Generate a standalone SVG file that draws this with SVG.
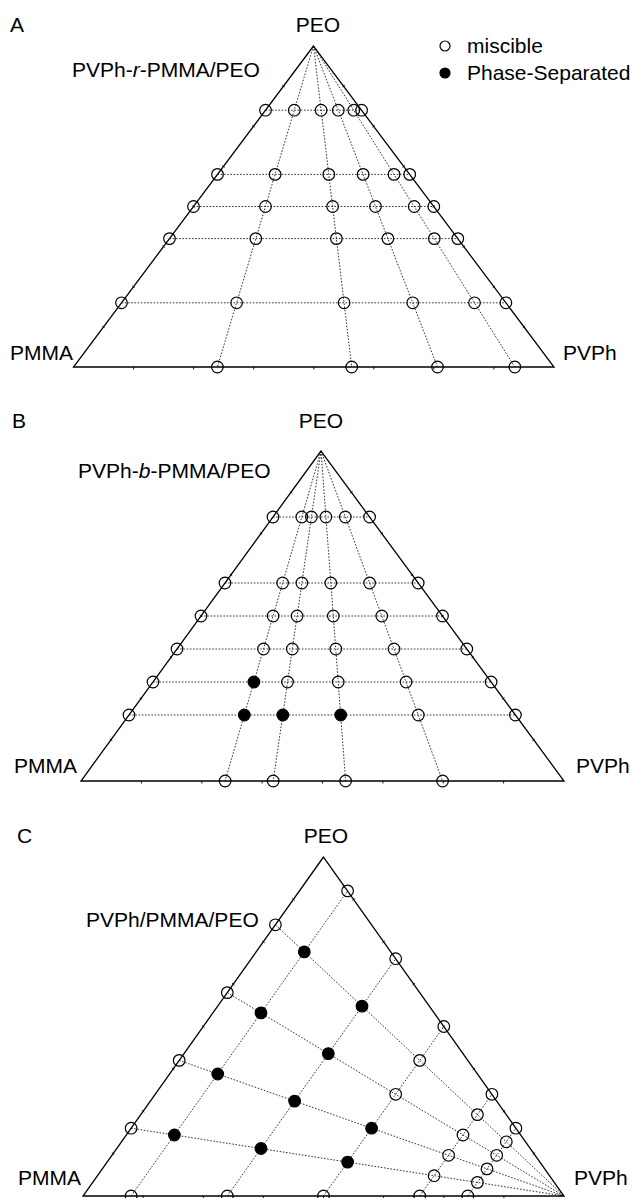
<svg xmlns="http://www.w3.org/2000/svg" width="633" height="1198" viewBox="0 0 633 1198">
<style>
text{font-family:"Liberation Sans",Arial,Helvetica,sans-serif;font-size:21px;fill:#000}
.e{fill:none;stroke:#000;stroke-width:1.3}
.t{fill:none;stroke:#000;stroke-width:0.9}
.d{fill:none;stroke:#000;stroke-width:0.8;stroke-dasharray:1.6 1.6}
.o{fill:none;stroke:#000;stroke-width:1.2}
.f{fill:#000;stroke:#000;stroke-width:1.2}
</style>
<rect width="633" height="1198" fill="#fff"/>

<g id="panelA">
<text x="10" y="32">A</text>
<text x="318" y="32" text-anchor="middle">PEO</text>
<text x="72" y="77">PVPh-<tspan font-style="italic">r</tspan>-PMMA/PEO</text>
<text x="10" y="360">PMMA</text>
<text x="563" y="360">PVPh</text>
<g id="A-frame">
<path class="e" d="M313.5 46L73.5 367L554 367Z"/>
<path class="t" d="M282.3 85.2l2.4 1.8M252.3 125.4l2.4 1.8M222.3 165.5l2.4 1.8M192.3 205.6l2.4 1.8M162.3 245.7l2.4 1.8M132.3 285.9l2.4 1.8M102.3 326l2.4 1.8M342.4 87l2.4-1.8M372.4 127.2l2.4-1.8M402.5 167.3l2.4-1.8M432.6 207.4l2.4-1.8M462.6 247.5l2.4-1.8M492.7 287.7l2.4-1.8M522.7 327.8l2.4-1.8M133.6 367v2.5M193.6 367v2.5M253.7 367v2.5M313.8 367v2.5M373.8 367v2.5M433.9 367v2.5M493.9 367v2.5"/>
</g>
<g id="A-connectors">
<path class="d" d="M265.5 110.2H361.6M217.5 174.4H409.7M193.5 206.5H433.8M169.5 238.6H457.8M121.5 302.8H505.9"/>
<path class="d" d="M313.5 46L217.4 367M313.5 46L351.7 367M313.5 46L437.5 367M313.5 46L514.8 367"/>
</g>
<g id="A-points">
<g class="o">
<circle cx="265.5" cy="110.2" r="5.8"/><circle cx="294.3" cy="110.2" r="5.8"/><circle cx="321.1" cy="110.2" r="5.8"/><circle cx="338.3" cy="110.2" r="5.8"/><circle cx="353.8" cy="110.2" r="5.8"/><circle cx="361.6" cy="110.2" r="5.8"/>
<circle cx="217.5" cy="174.4" r="5.8"/><circle cx="275.1" cy="174.4" r="5.8"/><circle cx="328.8" cy="174.4" r="5.8"/><circle cx="363.1" cy="174.4" r="5.8"/><circle cx="394" cy="174.4" r="5.8"/><circle cx="409.7" cy="174.4" r="5.8"/>
<circle cx="193.5" cy="206.5" r="5.8"/><circle cx="265.5" cy="206.5" r="5.8"/><circle cx="332.6" cy="206.5" r="5.8"/><circle cx="375.5" cy="206.5" r="5.8"/><circle cx="414.2" cy="206.5" r="5.8"/><circle cx="433.8" cy="206.5" r="5.8"/>
<circle cx="169.5" cy="238.6" r="5.8"/><circle cx="255.8" cy="238.6" r="5.8"/><circle cx="336.4" cy="238.6" r="5.8"/><circle cx="387.9" cy="238.6" r="5.8"/><circle cx="434.3" cy="238.6" r="5.8"/><circle cx="457.8" cy="238.6" r="5.8"/>
<circle cx="121.5" cy="302.8" r="5.8"/><circle cx="236.6" cy="302.8" r="5.8"/><circle cx="344.1" cy="302.8" r="5.8"/><circle cx="412.7" cy="302.8" r="5.8"/><circle cx="474.5" cy="302.8" r="5.8"/><circle cx="505.9" cy="302.8" r="5.8"/>
<circle cx="217.4" cy="367" r="5.8"/><circle cx="351.7" cy="367" r="5.8"/><circle cx="437.5" cy="367" r="5.8"/><circle cx="514.8" cy="367" r="5.8"/>
</g>
</g>
<g id="legend">
<circle class="o" cx="445" cy="46" r="5"/>
<circle class="f" cx="445" cy="73" r="5"/>
<text x="467" y="53">miscible</text>
<text x="467" y="80">Phase-Separated</text>
</g>
</g>

<g id="panelB">
<text x="12" y="428">B</text>
<text x="321" y="428" text-anchor="middle">PEO</text>
<text x="78" y="478">PVPh-<tspan font-style="italic">b</tspan>-PMMA/PEO</text>
<text x="14" y="773">PMMA</text>
<text x="576" y="773">PVPh</text>
<g id="B-frame">
<path class="e" d="M321 451L81 781L564 781Z"/>
<path class="t" d="M289.8 491.4l2.4 1.8M259.8 532.6l2.4 1.8M229.8 573.9l2.4 1.8M199.8 615.1l2.4 1.8M169.8 656.4l2.4 1.8M139.8 697.6l2.4 1.8M109.8 738.9l2.4 1.8M350.2 493.2l2.4-1.8M380.6 534.4l2.4-1.8M410.9 575.7l2.4-1.8M441.3 616.9l2.4-1.8M471.7 658.2l2.4-1.8M502.1 699.4l2.4-1.8M532.4 740.7l2.4-1.8M141.4 781v2.5M201.8 781v2.5M262.1 781v2.5M322.5 781v2.5M382.9 781v2.5M443.3 781v2.5M503.6 781v2.5"/>
</g>
<g id="B-connectors">
<path class="d" d="M273 517H369.6M225 583H418.2M201 616H442.5M177 649H466.8M153 682H491.1M129 715H515.4"/>
<path class="d" d="M321 451L225.1 781M321 451L273.2 781M321 451L345.6 781M321 451L442.6 781"/>
</g>
<g id="B-points">
<g class="o">
<circle cx="273" cy="517" r="5.8"/><circle cx="301.8" cy="517" r="5.8"/><circle cx="311.4" cy="517" r="5.8"/><circle cx="325.9" cy="517" r="5.8"/><circle cx="345.3" cy="517" r="5.8"/><circle cx="369.6" cy="517" r="5.8"/>
<circle cx="225" cy="583" r="5.8"/><circle cx="282.6" cy="583" r="5.8"/><circle cx="301.9" cy="583" r="5.8"/><circle cx="330.8" cy="583" r="5.8"/><circle cx="369.6" cy="583" r="5.8"/><circle cx="418.2" cy="583" r="5.8"/>
<circle cx="201" cy="616" r="5.8"/><circle cx="273.1" cy="616" r="5.8"/><circle cx="297.1" cy="616" r="5.8"/><circle cx="333.3" cy="616" r="5.8"/><circle cx="381.8" cy="616" r="5.8"/><circle cx="442.5" cy="616" r="5.8"/>
<circle cx="177" cy="649" r="5.8"/><circle cx="263.5" cy="649" r="5.8"/><circle cx="292.3" cy="649" r="5.8"/><circle cx="335.8" cy="649" r="5.8"/><circle cx="394" cy="649" r="5.8"/><circle cx="466.8" cy="649" r="5.8"/>
<circle cx="153" cy="682" r="5.8"/><circle cx="287.5" cy="682" r="5.8"/><circle cx="338.2" cy="682" r="5.8"/><circle cx="406.1" cy="682" r="5.8"/><circle cx="491.1" cy="682" r="5.8"/>
<circle cx="129" cy="715" r="5.8"/><circle cx="418.3" cy="715" r="5.8"/><circle cx="515.4" cy="715" r="5.8"/>
<circle cx="225.1" cy="781" r="5.8"/><circle cx="273.2" cy="781" r="5.8"/><circle cx="345.6" cy="781" r="5.8"/><circle cx="442.6" cy="781" r="5.8"/>
</g>
<g class="f">
<circle cx="253.9" cy="682" r="5.8"/>
<circle cx="244.3" cy="715" r="5.8"/><circle cx="282.8" cy="715" r="5.8"/><circle cx="340.7" cy="715" r="5.8"/>
</g>
</g>
</g>

<g id="panelC">
<text x="17" y="843">C</text>
<text x="326" y="843" text-anchor="middle">PEO</text>
<text x="86" y="927">PVPh/PMMA/PEO</text>
<text x="18" y="1185">PMMA</text>
<text x="574" y="1185">PVPh</text>
<g id="C-frame">
<path class="e" d="M323.5 857L83 1196L564 1196Z"/>
<path class="t" d="M292.2 898.5l2.4 1.8M262.2 940.9l2.4 1.8M232.1 983.2l2.4 1.8M202.1 1025.6l2.4 1.8M172 1068l2.4 1.8M141.9 1110.4l2.4 1.8M111.9 1152.7l2.4 1.8M352.4 900.3l2.4-1.8M382.4 942.7l2.4-1.8M412.5 985l2.4-1.8M442.6 1027.4l2.4-1.8M472.6 1069.8l2.4-1.8M502.7 1112.2l2.4-1.8M532.7 1154.5l2.4-1.8M143.1 1196v2M203.3 1196v2M263.4 1196v2M323.5 1196v2M383.6 1196v2M443.8 1196v2M503.9 1196v2"/>
</g>
<g id="C-connectors">
<path class="d" d="M275.4 924.8L564 1196M227.3 992.6L564 1196M179.2 1060.4L564 1196M131.1 1128.2L564 1196"/>
<path class="d" d="M131.1 1196L347.6 890.9M227.3 1196L395.7 958.7M323.5 1196L443.8 1026.5M419.7 1196L491.9 1094.3M467.8 1196L515.9 1128.2"/>
</g>
<g id="C-points">
<g class="o">
<circle cx="275.4" cy="924.8" r="5.8"/><circle cx="227.3" cy="992.6" r="5.8"/><circle cx="179.2" cy="1060.4" r="5.8"/><circle cx="131.1" cy="1128.2" r="5.8"/>
<circle cx="347.6" cy="890.9" r="5.8"/><circle cx="395.7" cy="958.7" r="5.8"/><circle cx="443.8" cy="1026.5" r="5.8"/><circle cx="491.9" cy="1094.3" r="5.8"/><circle cx="515.9" cy="1128.2" r="5.8"/>
<circle cx="131.1" cy="1196" r="5.8"/><circle cx="227.3" cy="1196" r="5.8"/><circle cx="323.5" cy="1196" r="5.8"/><circle cx="419.7" cy="1196" r="5.8"/><circle cx="467.8" cy="1196" r="5.8"/>
<circle cx="419.7" cy="1060.4" r="5.8"/><circle cx="477.4" cy="1114.6" r="5.8"/><circle cx="506.3" cy="1141.8" r="5.8"/>
<circle cx="395.7" cy="1094.3" r="5.8"/><circle cx="463" cy="1135" r="5.8"/><circle cx="496.7" cy="1155.3" r="5.8"/>
<circle cx="448.6" cy="1155.3" r="5.8"/><circle cx="487" cy="1168.9" r="5.8"/>
<circle cx="434.1" cy="1175.7" r="5.8"/><circle cx="477.4" cy="1182.4" r="5.8"/>
</g>
<g class="f">
<circle cx="304.3" cy="951.9" r="5.8"/><circle cx="362" cy="1006.2" r="5.8"/>
<circle cx="261" cy="1012.9" r="5.8"/><circle cx="328.3" cy="1053.6" r="5.8"/>
<circle cx="217.7" cy="1074" r="5.8"/><circle cx="294.6" cy="1101.1" r="5.8"/><circle cx="371.6" cy="1128.2" r="5.8"/>
<circle cx="174.4" cy="1135" r="5.8"/><circle cx="261" cy="1148.5" r="5.8"/><circle cx="347.6" cy="1162.1" r="5.8"/>
</g>
</g>
</g>
</svg>
